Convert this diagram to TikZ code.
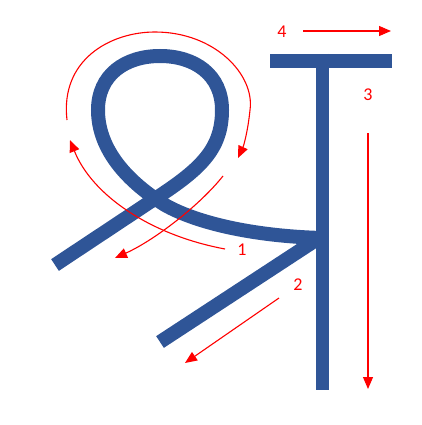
\documentclass[tikz,border=0pt]{standalone}
\usepackage{fontspec}
\setmainfont{Carlito}
\usetikzlibrary{arrows.meta}
\definecolor{cblue}{HTML}{2F5597}
\definecolor{cred}{HTML}{FF0000}
\tikzset{
  every picture/.style={x=1pt, y=-1pt},
  stroke/.style={draw=cblue, line width=14pt},
  order/.style={-{Triangle[length=12pt, width=10pt]}, draw=cred, line width=1.1pt},
  num/.style={text=cred, font=\fontsize{18}{20}\selectfont, inner sep=0pt},
}
\begin{document}
\begin{tikzpicture}
  \useasboundingbox (0,0) rectangle (422,425);
  % letter strokes
  \draw[stroke] (55,265) -- (150,202)
    .. controls (200,170) and (222,150) .. (222,110)
    .. controls (222,75) and (195,56) .. (160,56)
    .. controls (125,56) and (98,75) .. (98,110)
    .. controls (98,150) and (128,182) .. (165,205)
    .. controls (195,222) and (250,236) .. (322,238);
  \draw[stroke] (160,342) -- (322,236);
  \draw[stroke, line width=13pt] (322,54) -- (322,390);
  \draw[stroke] (270,61) -- (392,61);
  % stroke order labels
  \node[num] (lbl1) at (242,250) {1};
  \node[num] (lbl2) at (298,285) {2};
  \node[num] (lbl3) at (368,95) {3};
  \node[num] (lbl4) at (282,32) {4};
  % stroke order arrows
  \draw[order] (225,249) .. controls (150,235) and (92,195) .. (70,140);
  \draw[order] (67,120) .. controls (60,60) and (110,32) .. (155,32)
    .. controls (215,32) and (255,75) .. (250,110)
    .. controls (248,130) and (244,145) .. (238,158);
  \draw[order] (223,176) .. controls (200,205) and (155,240) .. (115,258);
  \draw[order] (279,298) -- (185,363);
  \draw[order] (368,133) -- (368,389);
  \draw[order] (303,31) -- (391,31);
\end{tikzpicture}
\end{document}
